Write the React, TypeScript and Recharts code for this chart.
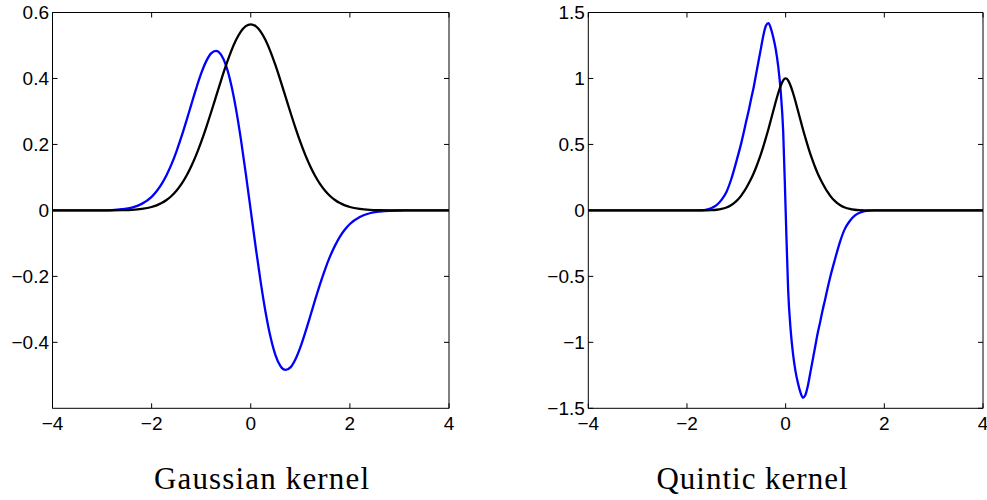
import React from 'react';
import { LineChart, Line, XAxis, YAxis } from 'recharts';

// ---------- Data ----------
const xTicks = [-4, -2, 0, 2, 4];

const gaussX = [
  -4, -3.5, -3, -2.8, -2.6, -2.4, -2.2, -2, -1.9, -1.8, -1.7, -1.6, -1.5, -1.4, -1.3, -1.2, -1.1, -1,
  -0.9, -0.8, -0.7, -0.6, -0.5, -0.4, -0.3, -0.2, -0.1, 0,
  0.1, 0.2, 0.3, 0.4, 0.5, 0.6, 0.7, 0.8, 0.9, 1, 1.1, 1.2, 1.3, 1.4, 1.5, 1.6, 1.7, 1.8, 1.9, 2,
  2.2, 2.4, 2.6, 2.8, 3, 3.5, 4,
];
const gaussKernel = [
  0, 0, 0.0001, 0.0002, 0.0007, 0.0018, 0.0045, 0.0103, 0.0153, 0.0221, 0.0314, 0.0436, 0.0595, 0.0795,
  0.1041, 0.1337, 0.1682, 0.2076, 0.251, 0.2975, 0.3456, 0.3936, 0.4394, 0.4808, 0.5156, 0.5421, 0.5586,
  0.5642,
  0.5586, 0.5421, 0.5156, 0.4808, 0.4394, 0.3936, 0.3456, 0.2975, 0.251, 0.2076, 0.1682, 0.1337, 0.1041,
  0.0795, 0.0595, 0.0436, 0.0314, 0.0221, 0.0153, 0.0103, 0.0045, 0.0018, 0.0007, 0.0002, 0.0001, 0, 0,
];
const gaussDeriv = [
  0, 0, 0.0003, 0.0011, 0.0036, 0.0086, 0.0198, 0.0412, 0.0581, 0.0796, 0.1068, 0.1395, 0.1785, 0.2226,
  0.2707, 0.3209, 0.37, 0.4152, 0.4518, 0.476, 0.4838, 0.4723, 0.4394, 0.3846, 0.3094, 0.2168, 0.1117,
  0,
  -0.1117, -0.2168, -0.3094, -0.3846, -0.4394, -0.4723, -0.4838, -0.476, -0.4518, -0.4152, -0.37, -0.3209,
  -0.2707, -0.2226, -0.1785, -0.1395, -0.1068, -0.0796, -0.0581, -0.0412, -0.0198, -0.0086, -0.0036,
  -0.0011, -0.0003, 0, 0,
];

const quinticX = [
  -4, -3, -2, -1.8, -1.7, -1.6, -1.5, -1.4, -1.3, -1.2, -1.1, -1,
  -0.9, -0.85, -0.8, -0.75, -0.7, -0.65, -0.6, -0.55, -0.5, -0.45, -0.4, -0.35, -0.3, -0.25, -0.2, -0.15,
  -0.1, -0.05, 0,
  0.05, 0.1, 0.15, 0.2, 0.25, 0.3, 0.35, 0.4, 0.45, 0.5, 0.55, 0.6, 0.65, 0.7, 0.75, 0.8, 0.85, 0.9,
  1, 1.1, 1.2, 1.3, 1.4, 1.5, 1.6, 1.7, 1.8, 2, 3, 4,
];
const quinticKernel = [
  0, 0, 0, 0, 0, 0.0005, 0.002, 0.005, 0.011, 0.022, 0.041, 0.07,
  0.112, 0.14, 0.17, 0.204, 0.24, 0.28, 0.325, 0.375, 0.428, 0.487, 0.55, 0.615, 0.685, 0.755, 0.825, 0.89,
  0.945, 0.985, 1,
  0.985, 0.945, 0.89, 0.825, 0.755, 0.685, 0.615, 0.55, 0.487, 0.428, 0.375, 0.325, 0.28, 0.24, 0.204,
  0.17, 0.14, 0.112, 0.07, 0.041, 0.022, 0.011, 0.005, 0.002, 0.0005, 0, 0, 0, 0, 0,
];
const quinticDeriv = [
  0, 0, 0, 0, 0.001, 0.006, 0.018, 0.04, 0.08, 0.14, 0.24, 0.37,
  0.51, 0.59, 0.675, 0.755, 0.845, 0.93, 1.03, 1.13, 1.23, 1.33, 1.4, 1.42, 1.38, 1.31, 1.22, 1.09,
  0.9, 0.6, 0,
  -0.6, -0.9, -1.09, -1.22, -1.31, -1.38, -1.42, -1.4, -1.33, -1.23, -1.13, -1.03, -0.93, -0.845, -0.755,
  -0.675, -0.59, -0.51, -0.37, -0.24, -0.14, -0.08, -0.04, -0.018, -0.006, -0.001, 0, 0, 0, 0,
];

const gaussYTicks = [-0.4, -0.2, 0, 0.2, 0.4, 0.6];
const quinticYTicks = [-1.5, -1, -0.5, 0, 0.5, 1, 1.5];

// ---------- Styles ----------
const tickFont = { fill: '#000', fontSize: 19, fontFamily: '"Liberation Sans", Arial, sans-serif' };
const axisStroke = { stroke: '#000', strokeWidth: 1 };
const fmt = (v: number) => String(v).replace('-', '\u2212');
const blank = () => '';

type PanelProps = {
  left: number;
  width: number;
  marginLeft: number;
  marginRight: number;
  yAxisWidth: number;
  xs: number[];
  kernel: number[];
  deriv: number[];
  yDomain: [number, number];
  yTicks: number[];
};

function Panel(p: PanelProps) {
  const data = p.xs.map((x, i) => ({ x, k: p.kernel[i], d: p.deriv[i] }));
  return (
    <div style={{ position: 'absolute', left: p.left, top: 0 }}>
      <LineChart
        width={p.width}
        height={500}
        data={data}
        margin={{ top: 11.5, right: p.marginRight, bottom: 61.7, left: p.marginLeft }}
      >
        <XAxis
          xAxisId="b"
          dataKey="x"
          type="number"
          domain={[-4, 4]}
          ticks={xTicks}
          interval={0}
          orientation="bottom"
          height={30}
          tickSize={-5}
          tickMargin={13}
          tick={tickFont}
          tickFormatter={fmt}
          axisLine={axisStroke}
          tickLine={axisStroke}
          allowDataOverflow
        />
        <XAxis
          xAxisId="t"
          dataKey="x"
          type="number"
          domain={[-4, 4]}
          ticks={xTicks}
          interval={0}
          orientation="top"
          height={1}
          tickSize={-5}
          tick={tickFont}
          tickFormatter={blank}
          axisLine={axisStroke}
          tickLine={axisStroke}
          allowDataOverflow
        />
        <YAxis
          yAxisId="l"
          type="number"
          domain={p.yDomain}
          ticks={p.yTicks}
          interval={0}
          width={p.yAxisWidth}
          tickSize={-5}
          tickMargin={8.5}
          tick={tickFont}
          tickFormatter={fmt}
          axisLine={axisStroke}
          tickLine={axisStroke}
          allowDataOverflow
        />
        <YAxis
          yAxisId="r"
          orientation="right"
          type="number"
          domain={p.yDomain}
          ticks={p.yTicks}
          interval={0}
          width={1}
          tickSize={-5}
          tick={tickFont}
          tickFormatter={blank}
          axisLine={axisStroke}
          tickLine={axisStroke}
          allowDataOverflow
        />
        <Line
          xAxisId="b"
          yAxisId="l"
          dataKey="d"
          type="monotone"
          stroke="#0000ff"
          strokeWidth={2.3}
          dot={false}
          activeDot={false}
          isAnimationActive={false}
        />
        <Line
          xAxisId="b"
          yAxisId="l"
          dataKey="k"
          type="monotone"
          stroke="#000000"
          strokeWidth={2.3}
          dot={false}
          activeDot={false}
          isAnimationActive={false}
        />
      </LineChart>
    </div>
  );
}

const titles = ['Gaussian kernel', 'Quintic kernel'];

export default function App() {
  return (
    <div style={{ position: 'absolute', left: 0, top: 0, width: 987, height: 500, background: '#fff', overflow: 'hidden' }}>
      <Panel
        left={0}
        width={480}
        marginLeft={0}
        marginRight={30}
        yAxisWidth={52.5}
        xs={gaussX}
        kernel={gaussKernel}
        deriv={gaussDeriv}
        yDomain={[-0.6, 0.6]}
        yTicks={gaussYTicks}
      />
      <Panel
        left={500}
        width={487}
        marginLeft={36}
        marginRight={3}
        yAxisWidth={52.3}
        xs={quinticX}
        kernel={quinticKernel}
        deriv={quinticDeriv}
        yDomain={[-1.5, 1.5]}
        yTicks={quinticYTicks}
      />
      <svg width={987} height={500} style={{ position: 'absolute', left: 0, top: 0, pointerEvents: 'none' }}>
        <text
          x={261.5}
          y={489}
          textAnchor="middle"
          fontFamily='"Liberation Serif", "Times New Roman", serif'
          fontSize={31}
          textLength={215}
          lengthAdjust="spacing"
          fill="#000"
        >
          {titles[0]}
        </text>
        <text
          x={752}
          y={489}
          textAnchor="middle"
          fontFamily='"Liberation Serif", "Times New Roman", serif'
          fontSize={31}
          textLength={191}
          lengthAdjust="spacing"
          fill="#000"
        >
          {titles[1]}
        </text>
      </svg>
    </div>
  );
}
